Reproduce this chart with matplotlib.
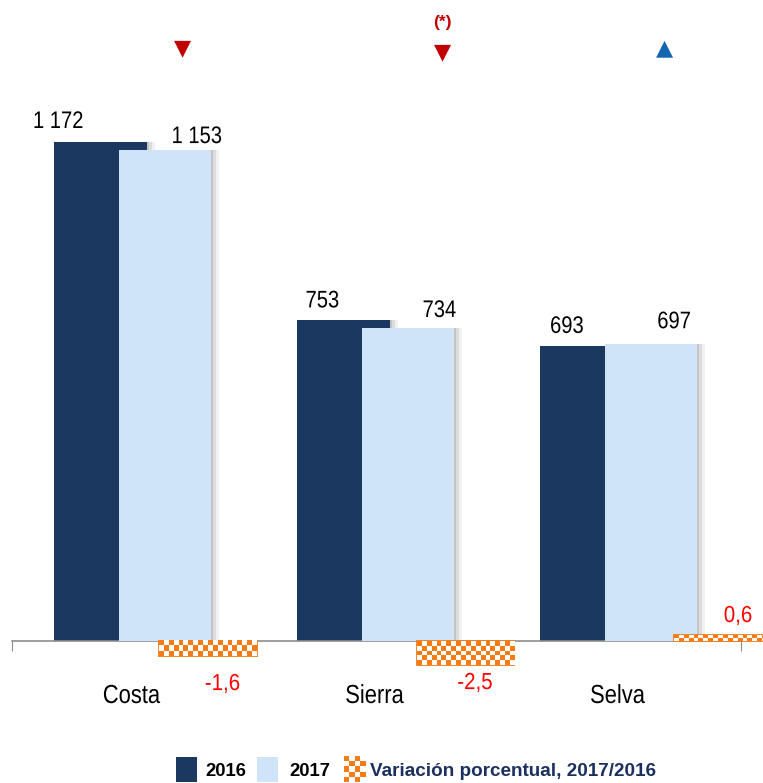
import numpy as np
import matplotlib
matplotlib.use("Agg")
import matplotlib.pyplot as plt
import matplotlib.patheffects as pe
from matplotlib.patches import Rectangle, PathPatch
from matplotlib.textpath import TextPath
from matplotlib.font_manager import FontProperties
from matplotlib.transforms import Affine2D, IdentityTransform

# datos
regiones = ["Costa", "Sierra", "Selva"]
v2016 = [1172, 753, 693]
v2017 = [1153, 734, 697]
variacion = [-1.6, -2.5, 0.6]
etiq_2016 = ["1 172", "753", "693"]
etiq_2017 = ["1 153", "734", "697"]
etiq_var = ["-1,6", "-2,5", "0,6"]
flechas = ["▼", "▼", "▲"]
notas = ["", "(*)", ""]

NAVY = "#1B3960"
LIGHT = "#CFE3F9"
ORANGE = "#F47B16"
RED = "#C00000"
BLUE = "#1466B0"

W, H = 763, 783
fig = plt.figure(figsize=(W / 100, H / 100), dpi=100)
rect_ax = [12 / W, (H - 680) / H, 729 / W, 600 / H]
ax = fig.add_axes(rect_ax)
ax2 = fig.add_axes(rect_ax, frameon=False)  # eje secundario para la variacion
ax.set_xlim(-0.5, 2.5)
ax.set_ylim(-91.6, 1317.6)
ax2.set_xticks([])
ax2.set_yticks([])

x = np.arange(len(regiones))
sombra = [pe.SimplePatchShadow(offset=(2, 0), shadow_rgbFace="#888888", alpha=0.35),
          pe.SimplePatchShadow(offset=(4, 0), shadow_rgbFace="#999999", alpha=0.25),
          pe.SimplePatchShadow(offset=(6, 0), shadow_rgbFace="#BBBBBB", alpha=0.2),
          pe.Normal()]
b1 = ax.bar(x - 0.136, v2016, width=0.379, color=NAVY, zorder=2)
b2 = ax.bar(x + 0.128, v2017, width=0.379, color=LIGHT, zorder=3)
for b in list(b1) + list(b2):
    b.set_path_effects(sombra)

# barras de variacion con patron ajedrezado
cell = 4.8  # px
orange_rgb = np.array([0xF4, 0x7B, 0x16]) / 255.0
for xi, v in zip(x, variacion):
    x0 = xi - 0.19
    rect = Rectangle((x0, 0), 0.38, v, facecolor="white", edgecolor=ORANGE,
                     linewidth=1.3, zorder=4, clip_on=False)
    ax2.add_patch(rect)
    hpx = abs(v) * 600 / 63.2
    ny = max(2, int(round(hpx / cell)))
    nx = int(round(98 / cell))
    board = (np.indices((ny, nx)).sum(axis=0) % 2)
    img = np.where(board[..., None] == 1, np.array([1, 1, 1]), orange_rgb)
    im = ax2.imshow(img, extent=(x0, x0 + 0.38, min(0, v), max(0, v)),
                    aspect="auto", interpolation="nearest", zorder=4.5, clip_on=False)
    im.set_clip_path(rect)
ax2.set_xlim(-0.761, 2.070)
ax2.set_ylim(-4.1, 59.1)

# linea del eje
for s in ["top", "right", "left"]:
    ax.spines[s].set_visible(False)
ax.spines["bottom"].set_position(("data", 0))
ax.spines["bottom"].set_color("#8C8C8C")
ax.spines["bottom"].set_linewidth(1.2)
ax.set_xticks([-0.5, 0.5, 1.5, 2.5])
ax.tick_params(axis="x", direction="out", length=7, color="#8C8C8C", labelbottom=False)
ax.set_yticks([])
ax.set_axisbelow(True)

# texto estrecho (tipo Arial Narrow) dibujado como trazado
prop = FontProperties(family="Liberation Sans")
cap_ref = TextPath((0, 0), "0", size=100, prop=prop).get_extents().height


def ntext(cx, base, s, cap, color="black", squeeze=0.84):
    """cx, base en pixeles de pantalla (origen abajo)."""
    tp = TextPath((0, 0), s, size=100, prop=prop)
    bb = tp.get_extents()
    k = cap / cap_ref
    tr = Affine2D().translate(-(bb.x0 + bb.width / 2), 0).scale(k * squeeze, k).translate(cx, base)
    fig.add_artist(PathPatch(tp, facecolor=color, edgecolor="none", lw=0,
                             transform=tr + IdentityTransform()))


def to_px(axes, xd, yd):
    return axes.transData.transform((xd, yd))


off_2016 = [(-42, 14), (-21, 13), (-19.5, 13)]
off_2017 = [(32.5, 7), (32, 11.5), (23.5, 16)]
off_var = [(14.5, -49), (9.5, -48), (15, 19)]
for i in range(3):
    px, py = to_px(ax, x[i] - 0.136, v2016[i])
    ntext(px + off_2016[i][0], py + off_2016[i][1], etiq_2016[i], 17)
    px, py = to_px(ax, x[i] + 0.128, v2017[i])
    ntext(px + off_2017[i][0], py + off_2017[i][1], etiq_2017[i], 17)
    px, py = to_px(ax, x[i], 0)
    ntext(px - 1.5, py - 62, regiones[i], 18.5)
    px, py = to_px(ax2, x[i], 0)
    ntext(px + off_var[i][0], py + off_var[i][1], etiq_var[i], 16.5, color="#FF0000", squeeze=0.88)

# flechas arriba
flecha_x = [182, 442, 665]
flecha_y = [48, 52, 48]
for i in range(3):
    c = BLUE if flechas[i] == "▲" else RED
    fig.text(flecha_x[i] / W, 1 - flecha_y[i] / H, flechas[i], ha="center", va="center",
             fontsize=16, color=c, family=["DejaVu Sans"])
    if notas[i]:
        fig.text(flecha_x[i] / W, 1 - 22 / H, notas[i], ha="center", va="center",
                 fontsize=12.5, color=RED, fontweight="bold", family=["Liberation Sans", "DejaVu Sans"])


# leyenda manual
def caja(x0, color):
    fig.patches.append(Rectangle((x0 / W, 1 - 782 / H), 21 / W, 25 / H, facecolor=color,
                                 edgecolor="none", transform=fig.transFigure, figure=fig))


caja(176, NAVY)
fig.text(205 / W, 1 - 772 / H, "2016", fontsize=13.3, fontweight="bold", va="center",
         family=["Liberation Sans", "DejaVu Sans"])
caja(257, LIGHT)
fig.text(289 / W, 1 - 772 / H, "2017", fontsize=13.3, fontweight="bold", va="center",
         family=["Liberation Sans", "DejaVu Sans"])
lax = fig.add_axes([344 / W, 1 - 782 / H, 22 / W, 26 / H])
board = (np.indices((5, 4)).sum(axis=0) % 2)
limg = np.where(board[..., None] == 1, np.array([1, 1, 1]), orange_rgb)
lax.imshow(limg, aspect="auto", interpolation="nearest")
lax.axis("off")
fig.text(370 / W, 1 - 772 / H, "Variación porcentual, 2017/2016", fontsize=13.6,
         fontweight="bold", va="center", color="#1B3060", family=["Liberation Sans", "DejaVu Sans"])

fig.savefig("out.png", dpi=100)
